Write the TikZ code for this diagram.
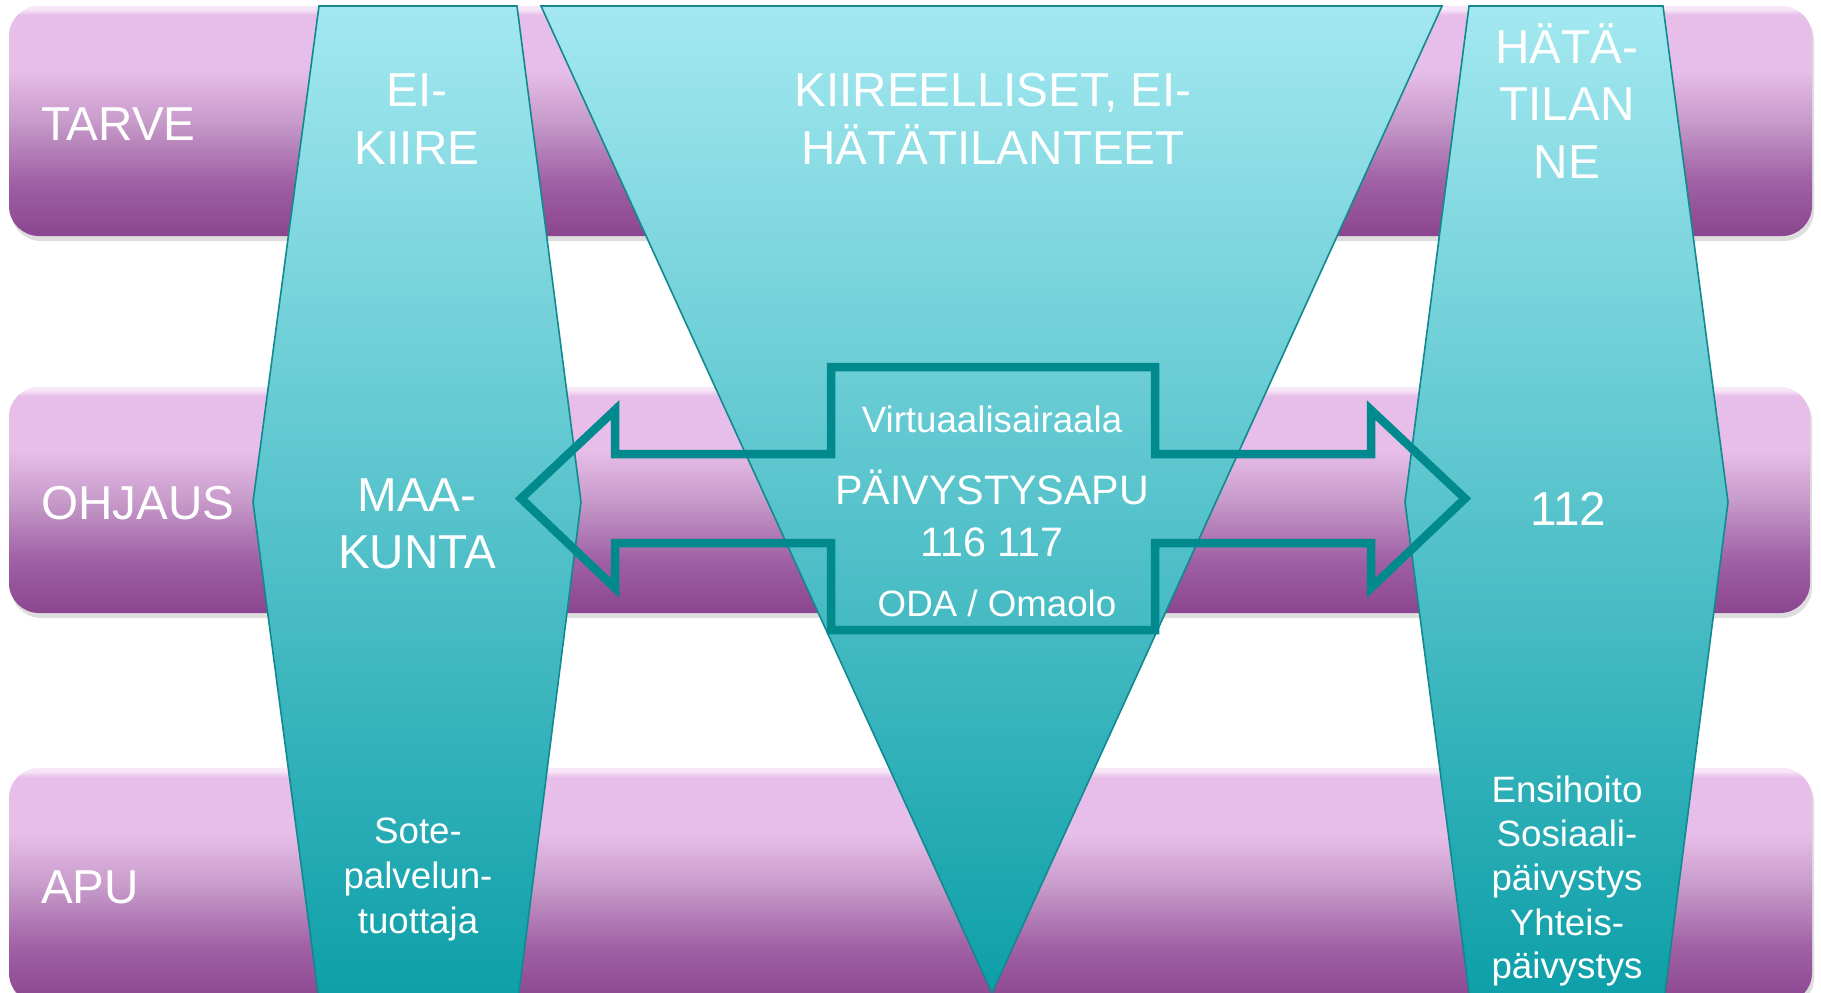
\documentclass[tikz,border=0pt]{standalone}
\usepackage{fontspec}
\setmainfont{Liberation Sans}
\definecolor{barhi}{HTML}{F6E6F7}
\definecolor{bartop}{HTML}{E7BDE9}
\definecolor{barmid}{HTML}{C79BCA}
\definecolor{barlow}{HTML}{A061A5}
\definecolor{barbot}{HTML}{8B4590}
\definecolor{tealtop}{HTML}{A3E8F0}
\definecolor{tealmid}{HTML}{6DC6D0}
\definecolor{tealbot}{HTML}{0D9FA8}
\definecolor{tealline}{HTML}{11898F}
\definecolor{arrowcol}{HTML}{008A8E}
\pgfdeclareverticalshading{barshade}{100bp}{color(0bp)=(barbot); color(25bp)=(barbot); color(37bp)=(barlow); color(50bp)=(barmid); color(61bp)=(bartop); color(73bp)=(bartop); color(74.3bp)=(barhi); color(75bp)=(barhi); color(100bp)=(barhi)}
\begin{document}
\begin{tikzpicture}[x=1pt,y=-1pt,
  barbox/.style={shading=barshade, rounded corners=30pt},
  barshadow/.style={fill=black, opacity=0.13, rounded corners=30pt},
  tealshape/.style={draw=tealline, line width=1.6pt, line join=miter, top color=tealtop, middle color=tealmid, bottom color=tealbot},
  arrowline/.style={draw=arrowcol, line width=8.5pt, line join=miter, miter limit=10},
  big/.style={text=white, inner sep=0pt, anchor=base, font=\fontsize{47.6}{56}\selectfont},
  mid/.style={text=white, inner sep=0pt, anchor=base, font=\fontsize{41.2}{48}\selectfont},
  small/.style={text=white, inner sep=0pt, anchor=base, font=\fontsize{36.7}{44}\selectfont},
  rowlabel/.style={big, anchor=base west}]
\useasboundingbox (0,0) rectangle (1821,993);
\clip (0,0) rectangle (1821,993);
\fill[white] (0,0) rectangle (1821,993);
% bar shadows
\path[barshadow] (11,10) rectangle (1814,241);
\path[barshadow] (11,391) rectangle (1812,618);
\path[barshadow] (11,772) rectangle (1814,1008);
% bars
\shade[barbox] (9,6) rectangle (1812,236);
\shade[barbox] (9,387) rectangle (1810,613);
\shade[barbox] (9,768) rectangle (1812,1003);
% teal shapes
\path[tealshape] (319,6) -- (517,6) -- (581,502) -- (518,1000) -- (319,1000) -- (253,502) -- cycle;
\path[tealshape] (1469,6) -- (1663,6) -- (1728,502) -- (1664,1000) -- (1470,1000) -- (1405,502) -- cycle;
\path[tealshape] (541,6) -- (1442,6) -- (992,993) -- cycle;
% double arrow outline
\draw[arrowline] (521,498.5) -- (615,410) -- (615,454) -- (831,454) -- (831,367) -- (1155,367) -- (1155,454) -- (1371,454) -- (1371,410) -- (1465,498.5) -- (1371,588) -- (1371,543) -- (1155,543) -- (1155,630) -- (831,630) -- (831,543) -- (615,543) -- (615,588) -- cycle;
% row labels
\node[rowlabel] (tarve) at (41,140) {TARVE};
\node[rowlabel] (ohjaus) at (41,519) {OHJAUS};
\node[rowlabel] (apu) at (41,903) {APU};
% column headings
\node[big] (eikiire1) at (417,106) {EI-};
\node[big] (eikiire2) at (417,164) {KIIRE};
\node[big] (kiir1) at (993,106) {KIIREELLISET, EI-};
\node[big] (kiir2) at (993,164) {HÄTÄTILANTEET};
\node[big] (hata1) at (1567,63) {HÄTÄ-};
\node[big] (hata2) at (1567,120) {TILAN};
\node[big] (hata3) at (1567,178) {NE};
% guidance row
\node[big] (maa1) at (417,511) {MAA-};
\node[big] (maa2) at (417,568) {KUNTA};
\node[big] (n112) at (1568,525) {112};
\node[small] (virt) at (992,432) {Virtuaalisairaala};
\node[mid] (paiv) at (992,504) {PÄIVYSTYSAPU};
\node[mid] (num) at (992,556) {116 117};
\node[small] (oda) at (997,616) {ODA / Omaolo};
% help row
\node[small] (sote1) at (418,843) {Sote-};
\node[small] (sote2) at (418,888) {palvelun-};
\node[small] (sote3) at (418,933) {tuottaja};
\node[small] (ens1) at (1567,802) {Ensihoito};
\node[small] (ens2) at (1567,846) {Sosiaali-};
\node[small] (ens3) at (1567,890) {päivystys};
\node[small] (ens4) at (1567,935) {Yhteis-};
\node[small] (ens5) at (1567,978) {päivystys};
\end{tikzpicture}
\end{document}
